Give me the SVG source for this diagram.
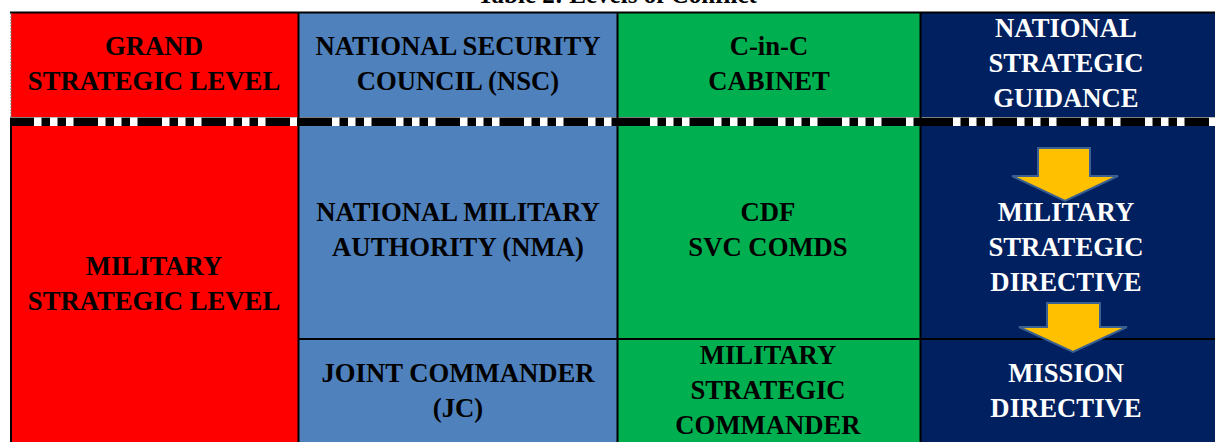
<svg xmlns="http://www.w3.org/2000/svg" width="1215" height="442" viewBox="0 0 1215 442">
  <style>
    .t { font-family: "Liberation Serif", "Times New Roman", serif; font-weight: bold; font-size: 26.7px; text-anchor: middle; }
    .dk { fill: #000000; }
    .lt { fill: #FFFFFF; }
    .grid { stroke: #000000; stroke-width: 2; fill: none; }
    .dots { stroke: #FFFFFF; stroke-width: 8.5; stroke-dasharray: 7.5 8.5 7.5 8.5 7.5 24.5; fill: none; }
    .arrow { fill: #FFC000; stroke: #3A5F91; stroke-width: 2; stroke-linejoin: miter; }
  </style>

  <rect x="0" y="0" width="1215" height="442" fill="#FFFFFF"/>

  <!-- caption (runs off the top edge) -->
  <text x="617" y="3" class="t dk" style="font-size:25px">Table 2: Levels of Conflict</text>

  <!-- Grand strategic row -->
  <g id="grand-level">
    <rect x="11" y="12" width="287" height="105" fill="#FF0000"/>
    <text x="154" y="55" class="t dk">GRAND</text>
    <text x="154" y="90" class="t dk">STRATEGIC LEVEL</text>
  </g>
  <g id="nsc">
    <rect x="298" y="12" width="319" height="105" fill="#4F81BD"/>
    <text x="458" y="55" class="t dk">NATIONAL SECURITY</text>
    <text x="458" y="90" class="t dk">COUNCIL (NSC)</text>
  </g>
  <g id="cabinet">
    <rect x="617" y="12" width="303" height="105" fill="#00B050"/>
    <text x="769" y="55" class="t dk">C-in-C</text>
    <text x="769" y="90" class="t dk">CABINET</text>
  </g>
  <g id="national-guidance">
    <rect x="920" y="12" width="295" height="105" fill="#002060"/>
    <text x="1066" y="37" class="t lt">NATIONAL</text>
    <text x="1066" y="72" class="t lt">STRATEGIC</text>
    <text x="1066" y="107" class="t lt">GUIDANCE</text>
  </g>

  <!-- Military strategic rows -->
  <g id="military-level">
    <rect x="11" y="126" width="287" height="316" fill="#FF0000"/>
    <text x="154" y="275" class="t dk">MILITARY</text>
    <text x="154" y="310" class="t dk">STRATEGIC LEVEL</text>
  </g>
  <g id="nma">
    <rect x="298" y="126" width="319" height="213" fill="#4F81BD"/>
    <text x="458" y="221" class="t dk">NATIONAL MILITARY</text>
    <text x="458" y="256" class="t dk">AUTHORITY (NMA)</text>
  </g>
  <g id="cdf">
    <rect x="617" y="126" width="303" height="213" fill="#00B050"/>
    <text x="768" y="221" class="t dk">CDF</text>
    <text x="768" y="256" class="t dk">SVC COMDS</text>
  </g>
  <g id="military-directive">
    <rect x="920" y="126" width="295" height="213" fill="#002060"/>
    <text x="1066" y="221" class="t lt">MILITARY</text>
    <text x="1066" y="256" class="t lt">STRATEGIC</text>
    <text x="1066" y="291" class="t lt">DIRECTIVE</text>
  </g>
  <g id="jc">
    <rect x="298" y="339" width="319" height="103" fill="#4F81BD"/>
    <text x="458" y="382" class="t dk">JOINT COMMANDER</text>
    <text x="458" y="417" class="t dk">(JC)</text>
  </g>
  <g id="msc">
    <rect x="617" y="339" width="303" height="103" fill="#00B050"/>
    <text x="768" y="364" class="t dk">MILITARY</text>
    <text x="768" y="399" class="t dk">STRATEGIC</text>
    <text x="768" y="434" class="t dk">COMMANDER</text>
  </g>
  <g id="mission-directive">
    <rect x="920" y="339" width="295" height="103" fill="#002060"/>
    <text x="1066" y="382" class="t lt">MISSION</text>
    <text x="1066" y="417" class="t lt">DIRECTIVE</text>
  </g>

  <!-- connectors: grid rules, level divider and flow arrows -->
  <g id="connectors">
    <line x1="10" y1="12.5" x2="1215" y2="12.5" class="grid"/>
    <line x1="11" y1="13" x2="11" y2="117" stroke="#777777" stroke-width="1" stroke-dasharray="2 1"/>
    <line x1="11" y1="126" x2="11" y2="442" class="grid"/>
    <line x1="298.5" y1="12" x2="298.5" y2="442" class="grid"/>
    <line x1="617.5" y1="12" x2="617.5" y2="442" class="grid"/>
    <line x1="920.5" y1="12" x2="920.5" y2="442" class="grid"/>
    <line x1="298" y1="339" x2="1215" y2="339" class="grid"/>

    <!-- dash-dot-dot divider between the two levels -->
    <rect x="10" y="117.5" width="1205" height="8.5" fill="#000000"/>
    <line x1="34" y1="121.75" x2="297" y2="121.75" class="dots"/>
    <line x1="332" y1="121.75" x2="616" y2="121.75" class="dots"/>
    <line x1="650" y1="121.75" x2="919" y2="121.75" class="dots"/>
    <line x1="953" y1="121.75" x2="1215" y2="121.75" class="dots"/>

    <polygon class="arrow" points="1038,148 1090,148 1090,176 1118,176 1065,201 1012,176 1038,176"/>
    <polygon class="arrow" points="1047,303 1100,303 1100,327 1127,327 1073,352 1019,327 1047,327"/>
  </g>
</svg>
